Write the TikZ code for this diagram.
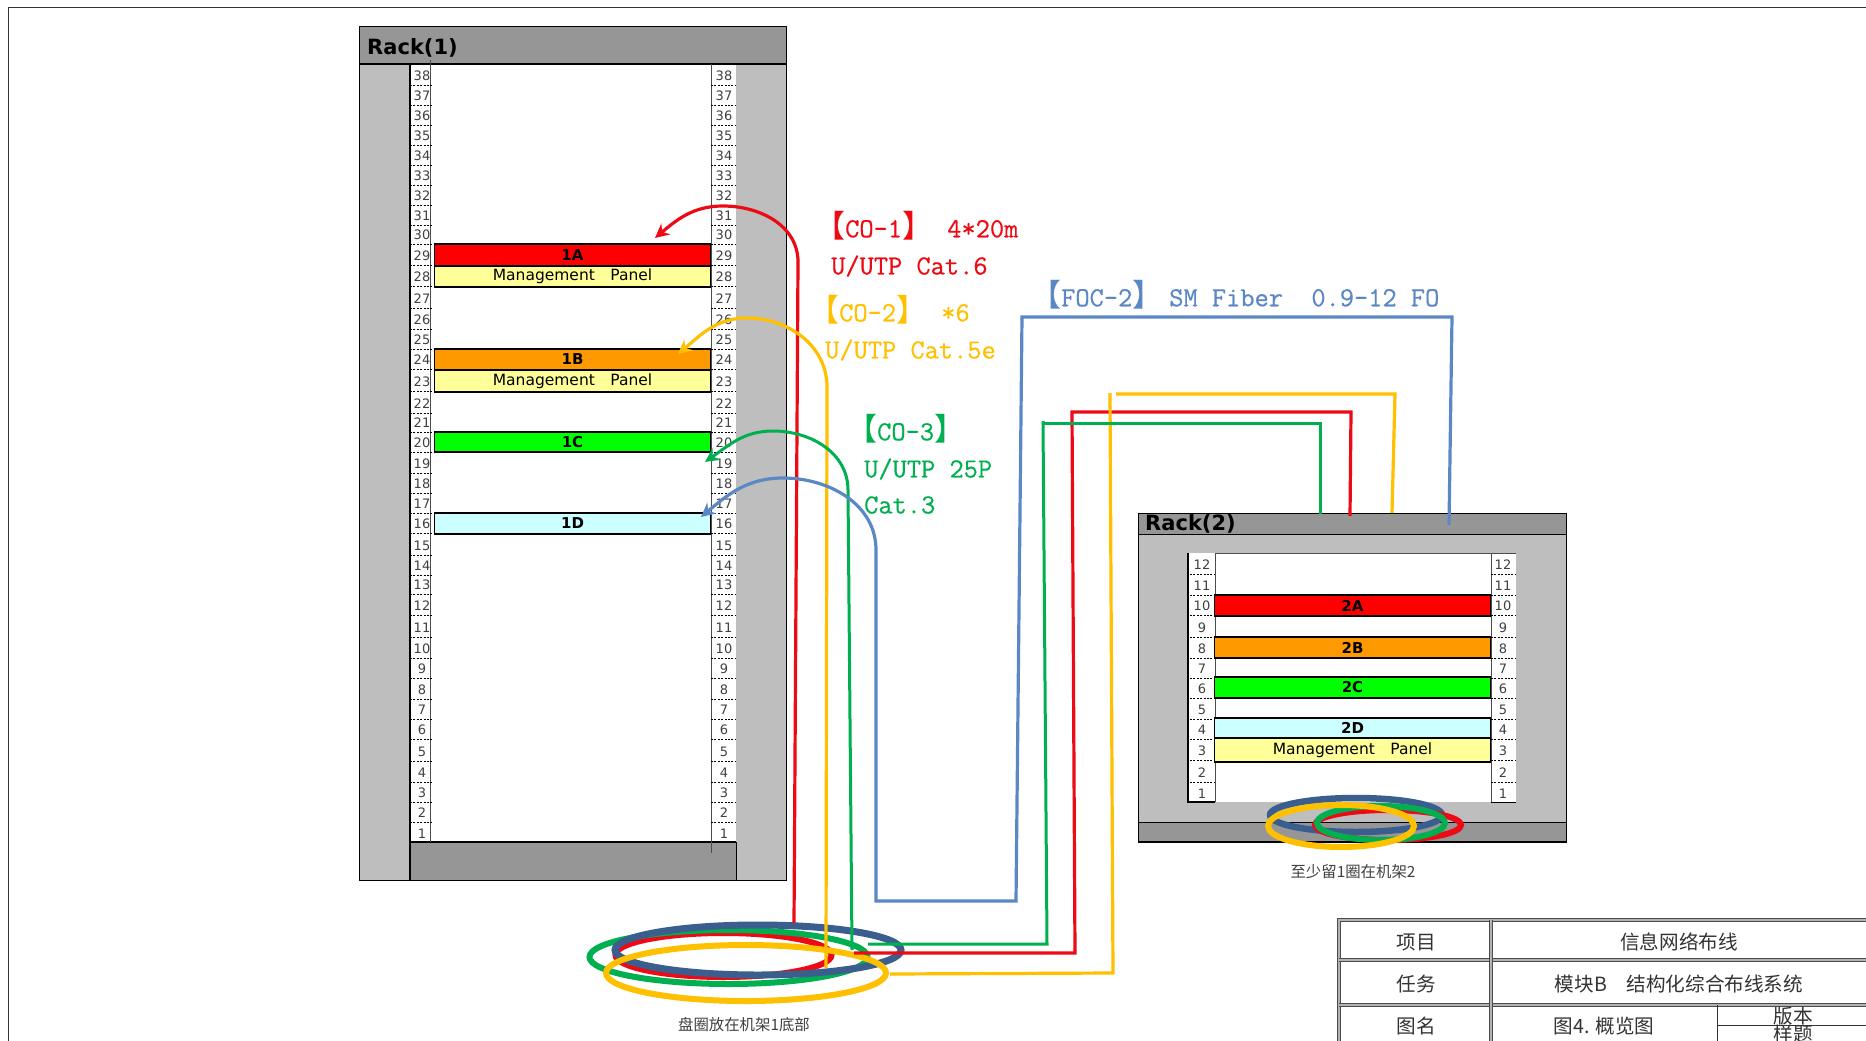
\documentclass[tikz,border=0pt]{standalone}
\usepackage{fontspec}
\usepackage{tikz}
\usetikzlibrary{arrows.meta}
\newfontfamily\cjk{Noto Sans CJK SC}
\newfontfamily\rackfont{DejaVu Sans}
\newfontfamily\cablefont[FakeBold=0.5]{Latin Modern Mono}
\definecolor{rackdark}{HTML}{969696}
\definecolor{racklight}{HTML}{BEBEBE}
\definecolor{cablered}{HTML}{EE0A14}
\definecolor{cableyellow}{HTML}{FFC000}
\definecolor{cablegreen}{HTML}{00B050}
\definecolor{cableblue}{HTML}{5B88C4}
\definecolor{coilblue}{HTML}{3A5F8E}
\definecolor{unitorange}{HTML}{FF9900}
\definecolor{unitcyan}{HTML}{CCFFFF}
\definecolor{unityellow}{HTML}{FFFF99}
\newcommand{\paneltext}{\raisebox{-1pt}{Management\quad Panel}}
\newcommand{\lbrk}{{\cjk\fontsize{31}{31}\selectfont【}}
\newcommand{\rbrk}{{\cjk\fontsize{31}{31}\selectfont】}}
\tikzset{
	rownum/.style={font=\rackfont\fontsize{13}{13}\selectfont,text=black!75,inner sep=0pt},
	rackunit/.style={draw=black,line width=1.8pt,inner sep=0pt,minimum width=276pt,font=\rackfont\bfseries\fontsize{15}{15}\selectfont},
	panelunit/.style={rackunit,fill=unityellow,font=\rackfont\fontsize{15.5}{15.5}\selectfont},
	racktitle/.style={anchor=west,inner sep=0pt,font=\rackfont\bfseries\fontsize{21}{21}\selectfont},
	rowline/.style={dash pattern=on 2pt off 1.4pt,line width=.9pt,black},
	cable/.style={line width=3.2pt},
	greencable/.style={line width=3pt,cablegreen},
	tip/.style={-{Stealth[length=14pt,width=14pt]}},
	coil/.style={line width=6pt},
	cablelabel/.style={anchor=west,inner sep=0pt,font=\cablefont\fontsize{27.6}{27.6}\selectfont},
	caption/.style={inner sep=0pt,text=black!75,font=\cjk\fontsize{15.4}{15.4}\selectfont},
	tablecell/.style={inner sep=0pt,text=black!80,font=\cjk\fontsize{19.6}{19.6}\selectfont},
	tableline/.style={draw=black!70,double=white!70!black,double distance=1.2pt,line width=1.2pt}
}
\begin{document}
\begin{tikzpicture}[x=1pt,y=-1pt]
	\useasboundingbox (0,0) rectangle (1866,1041);
	\fill[white] (0,0) rectangle (1866,1041);
	
	% sheet frame
	\coordinate (f1) at (8,1041);
	\coordinate (f2) at (8,7.5);
	\coordinate (f3) at (1866,7.5);
	\draw[line width=1pt,black!80] (f1) -- (f2) -- (f3);
	
	% rack 1
	\draw[fill=racklight,line width=.8pt] (359,26) rectangle (786,880);
	\fill[white] (410,64) rectangle (736,842);
	\draw[fill=rackdark,line width=.8pt] (359,26) rectangle (786,64);
	\draw[fill=rackdark,line width=.8pt] (410,842) rectangle (736,880);
	\draw[line width=1.4pt] (359,64) -- (786,64);
	\draw[line width=1.4pt] (410,842) -- (736,842);
	\draw[line width=1.4pt] (410,64) -- (410,880);
	\draw[black!70,line width=1pt] (430,60) -- (430,842);
	\draw[black!70,line width=1pt] (711,64) -- (711,853);
	\node[racktitle] (rack1) at (367,48) {Rack(1)};
	\foreach \n/\y in {38/76,37/96,36/116,35/136,34/156,33/176,32/196,31/216,30/235,29/256,28/277,27/299,26/320,25/340,24/360,23/382,22/404,21/423,20/443,19/464,18/484,17/504,16/524,15/546,14/566,13/585,12/606,11/628,10/649,9/669,8/690,7/710,6/730,5/752,4/773,3/793,2/813,1/834}{
		\node[rownum] (l\n) at (422,\y) {\n};
		\node[rownum] (r\n) at (724,\y) {\n};
		\ifnum\n>1
		\draw[rowline] (410,\y+9) -- (433,\y+9);
		\draw[rowline] (711,\y+9) -- (736,\y+9);
		\fi
	}
	\node[rackunit,fill=red,minimum height=22pt] (u1A) at (572.5,255) {1A};
	\node[panelunit,minimum height=21pt] (p1A) at (572.5,276.5) {\paneltext};
	\node[rackunit,fill=unitorange,minimum height=21pt] (u1B) at (572.5,359.5) {1B};
	\node[panelunit,minimum height=22pt] (p1B) at (572.5,381) {\paneltext};
	\node[rackunit,fill=green,minimum height=20pt] (u1C) at (572.5,442) {1C};
	\node[rackunit,fill=unitcyan,minimum height=21pt] (u1D) at (572.5,523.5) {1D};
	
	% rack 2
	\draw[fill=racklight,line width=.8pt] (1138,513) rectangle (1566,842);
	\draw[fill=rackdark,line width=.8pt] (1138,513) rectangle (1566,534);
	\draw[fill=rackdark,line width=.8pt] (1138,822) rectangle (1566,842);
	\draw[line width=1.4pt] (1138,842) -- (1566,842);
	\fill[white] (1188,553) rectangle (1516,802);
	\draw[line width=1.2pt] (1188,553) -- (1188,802) -- (1215,802);
	\draw[black!70,line width=1pt] (1215,553) -- (1215,802);
	\draw[black!70,line width=1pt] (1215,553) -- (1516,553);
	\draw[black!70,line width=1pt] (1491,553) -- (1491,802);
	\draw[line width=1pt] (1491,802) -- (1516,802);
	\node[racktitle] (rack2) at (1145,524) {Rack(2)};
	\foreach \n/\y in {12/565,11/586,10/606,9/628,8/649,7/669,6/689,5/710,4/730,3/751,2/773,1/794}{
		\node[rownum] (m\n) at (1202,\y) {\n};
		\node[rownum] (s\n) at (1503,\y) {\n};
		\ifnum\n>1
		\draw[rowline] (1190,\y+9) -- (1215,\y+9);
		\draw[rowline] (1491,\y+9) -- (1516,\y+9);
		\fi
	}
	\node[rackunit,fill=red,minimum height=21pt] (u2A) at (1352.5,605.5) {\raisebox{-1pt}{2A}};
	\node[rackunit,fill=unitorange,minimum height=21pt] (u2B) at (1352.5,647.5) {\raisebox{-1pt}{2B}};
	\node[rackunit,fill=green,minimum height=21pt] (u2C) at (1352.5,687.5) {\raisebox{-1pt}{2C}};
	\node[rackunit,fill=unitcyan,minimum height=20pt] (u2D) at (1352.5,728) {\raisebox{-1pt}{2D}};
	\node[panelunit,minimum height=24pt] (p2D) at (1352.5,750) {\paneltext};
	
	% coils under rack 1
	\draw[coil,cablered] (723.5,955) ellipse [x radius=108,y radius=22];
	\draw[coil,cablegreen] (728.5,957) ellipse [x radius=139,y radius=27];
	\draw[line width=7pt,coilblue] (758,950) ellipse [x radius=143,y radius=25];
	\draw[coil,cableyellow] (746,973) ellipse [x radius=140,y radius=28];
	
	% coils on rack 2
	\draw[line width=6.5pt,coilblue] (1356,815) ellipse [x radius=86,y radius=17];
	\draw[coil,cablered] (1388,825) ellipse [x radius=73,y radius=15];
	\draw[coil,cablegreen] (1381,823) ellipse [x radius=64,y radius=17];
	\draw[coil,cableyellow] (1341,826) ellipse [x radius=73,y radius=21];
	
	% CO-1
	\coordinate (ra) at (794,923);
	\coordinate (rb) at (798,262);
	\coordinate (rc) at (723,206);
	\coordinate (rd) at (655,238);
	\draw[cable,cablered,tip] (ra) -- (rb) to[out=90,in=0] (rc) to[out=180,in=40] (rd);
	\coordinate (re) at (854,953);
	\coordinate (rf) at (1075,953);
	\coordinate (rg) at (1072,412);
	\coordinate (rh) at (1351,412);
	\coordinate (ri) at (1350,516);
	\draw[cable,cablered] (re) -- (rf) -- (rg) -- (rh) -- (ri);
	
	% CO-2
	\coordinate (ya) at (826,968);
	\coordinate (yb) at (827,387);
	\coordinate (yc) at (747,318);
	\coordinate (yd) at (678,354);
	\draw[cable,cableyellow,tip] (ya) -- (yb) to[out=90,in=0] (yc) to[out=180,in=40] (yd);
	\coordinate (ye) at (890,974);
	\coordinate (yf) at (1113,973);
	\coordinate (yg) at (1110,393);
	\coordinate (yh) at (1116,394);
	\coordinate (yi) at (1395,394);
	\coordinate (yj) at (1392,513);
	\draw[cable,cableyellow] (ye) -- (yf) -- (yg);
	\draw[cable,cableyellow] (yh) -- (yi) -- (yj);
	
	% CO-3
	\coordinate (ga) at (852,950);
	\coordinate (gb) at (848,490);
	\coordinate (gc) at (773,431);
	\coordinate (gd) at (705,462);
	\draw[greencable,tip] (ga) -- (gb) to[out=90,in=0] (gc) to[out=180,in=35] (gd);
	\coordinate (ge) at (868,944);
	\coordinate (gf) at (1047,944);
	\coordinate (gg) at (1043,421);
	\coordinate (gh) at (1043,423);
	\coordinate (gi) at (1320,423);
	\coordinate (gj) at (1320,514);
	\draw[greencable] (ge) -- (gf) -- (gg);
	\draw[greencable] (gh) -- (gi) -- (gj);
	
	% FOC-2
	\coordinate (ba) at (1449,525);
	\coordinate (bb) at (1452,317);
	\coordinate (bc) at (1022,317);
	\coordinate (bd) at (1016,901);
	\coordinate (be) at (876,901);
	\coordinate (bf) at (876,550);
	\coordinate (bg) at (783,478);
	\coordinate (bh) at (701,517);
	\draw[cable,cableblue,tip] (ba) -- (bb) -- (bc) -- (bd) -- (be) -- (bf) to[out=90,in=0] (bg) to[out=180,in=40] (bh);
	
	% cable labels
	\node[cablelabel,text=cablered] (co1) at (814,225.5) {\lbrk CO-1\rbrk\ 4*20m};
	\node[cablelabel,text=cablered] (co1b) at (831,266) {U/UTP Cat.6};
	\node[cablelabel,text=cableyellow] (co2) at (808,309.5) {\lbrk CO-2\rbrk\ *6};
	\node[cablelabel,text=cableyellow] (co2b) at (825,350) {U/UTP Cat.5e};
	\node[cablelabel,text=cablegreen] (co3) at (846,428.5) {\lbrk CO-3\rbrk};
	\node[cablelabel,text=cablegreen] (co3b) at (864,469) {U/UTP 25P};
	\node[cablelabel,text=cablegreen] (co3c) at (864,505) {Cat.3};
	\node[cablelabel,text=cableblue] (foc) at (1030,294.5) {\lbrk FOC-2\rbrk\hspace{6pt}SM Fiber\ \ 0.9-12 FO};
	
	\node[caption] (cap1) at (744,1025) {盘圈放在机架1底部};
	\node[caption] (cap2) at (1353,872) {至少留1圈在机架2};
	
	% title table
	\draw[tableline] (1339,1041) -- (1339,920) -- (1866,920);
	\draw[tableline] (1339,960) -- (1866,960);
	\draw[tableline] (1339,1005) -- (1866,1005);
	\draw[tableline] (1491,920) -- (1491,1041);
	\draw[line width=1pt,black!80] (1717,1005) -- (1717,1041);
	\draw[line width=1pt,black!80] (1717,1025) -- (1866,1025);
	\node[tablecell] (t1) at (1416,942) {项目};
	\node[tablecell] (t2) at (1679,942) {信息网络布线};
	\node[tablecell] (t3) at (1416,984) {任务};
	\node[tablecell] (t4) at (1679,984) {模块B　结构化综合布线系统};
	\node[tablecell] (t5) at (1416,1026) {图名};
	\node[tablecell] (t6) at (1604,1026) {图4. 概览图};
	\node[tablecell] (t7) at (1793,1016) {版本};
	\node[tablecell] (t8) at (1793,1034) {样题};
\end{tikzpicture}
\end{document}
